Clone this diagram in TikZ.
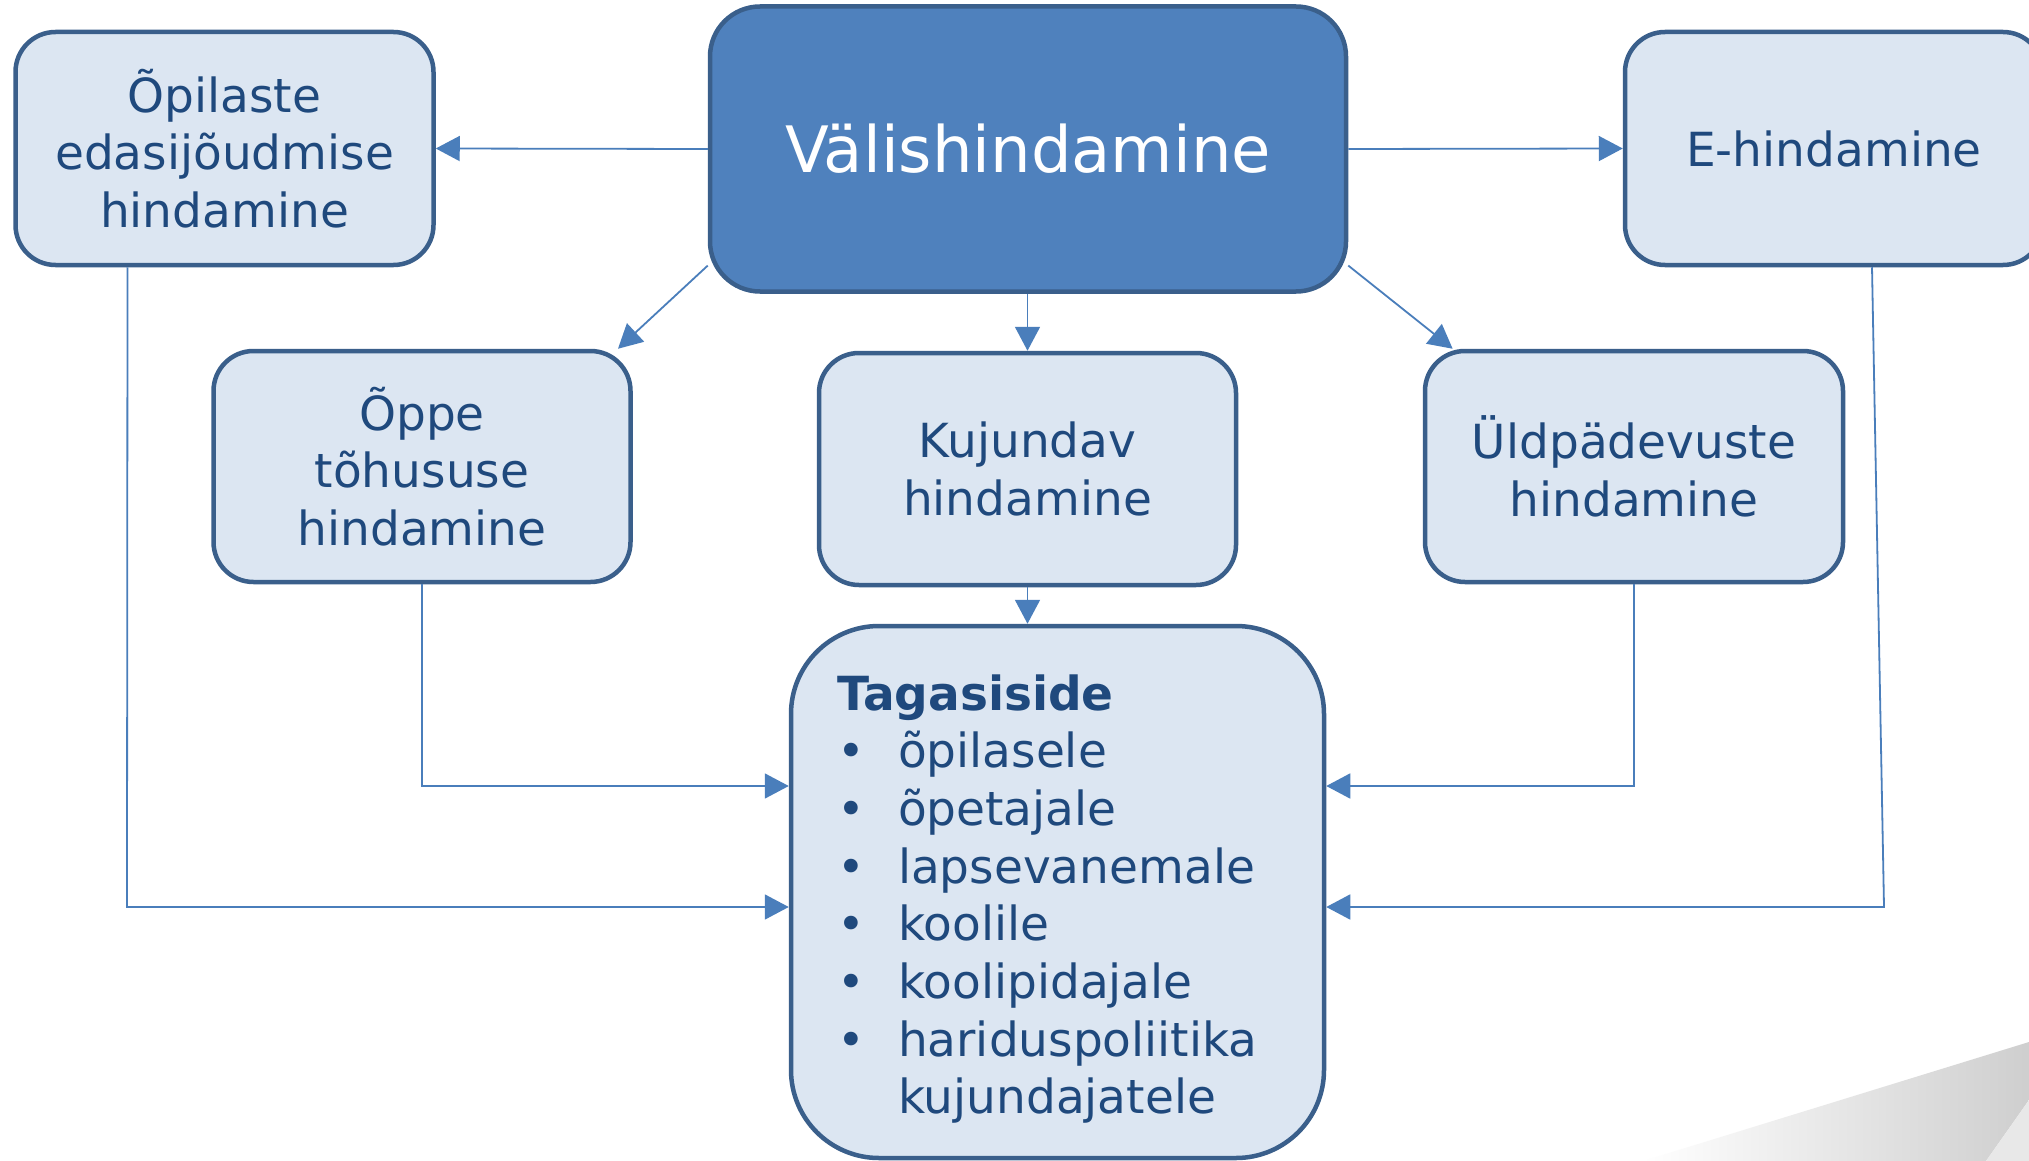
\documentclass[tikz,border=0pt]{standalone}
\usepackage{fontspec}
\setmainfont{DejaVu Sans}
\usetikzlibrary{arrows.meta,calc}
\definecolor{boxfill}{HTML}{DCE6F2}
\definecolor{boxline}{HTML}{3A5F8B}
\definecolor{mainfill}{HTML}{4F81BD}
\definecolor{txt}{HTML}{1F497D}
\definecolor{conncol}{HTML}{4A7EBB}
\begin{document}
\begin{tikzpicture}[x=1pt,y=-1pt,
  box/.style={draw=boxline, line width=4.5pt, fill=boxfill, rounded corners=40pt,
    inner sep=0pt, align=center, text=txt, font=\fontsize{47}{57.7}\selectfont},
  conn/.style={draw=conncol, line width=1.8pt, -{Triangle[length=24pt,width=25pt]}}]
\useasboundingbox (0,0) rectangle (2029,1161);
\clip (0,0) rectangle (2029,1161);
\fill[white] (0,0) rectangle (2029,1161);
% background decoration
\shade[left color=white, right color=black!19] (1643,1161) -- (2029,1042) -- (2029,1100) -- (1986,1161) -- cycle;
\fill[black!9] (1986,1161) -- (2029,1100) -- (2029,1161) -- cycle;
% nodes
\node[box, fill=mainfill, text=white, rounded corners=50pt, minimum width=636pt, minimum height=285pt,
  font=\fontsize{64}{70}\selectfont] (val) at (1028,149) {Välishindamine};
\node[box, minimum width=418pt, minimum height=233pt] (opil) at (224.5,148.5) {Õpilaste\\edasijõudmise\\hindamine};
\node[box, minimum width=418pt, minimum height=233pt] (ehind) at (1834,148.5) {E-hindamine};
\node[box, minimum width=417pt, minimum height=231pt] (oppe) at (422,466.5) {Õppe\\tõhususe\\hindamine};
\node[box, minimum width=417pt, minimum height=232pt] (kuj) at (1027.5,469) {Kujundav\\hindamine};
\node[box, minimum width=418pt, minimum height=231pt] (uld) at (1634,466.5) {Üldpädevuste\\hindamine};
\node[box, rounded corners=88pt, minimum width=533pt, minimum height=532pt] (tag) at (1057.5,892) {};
\node[inner sep=0pt, text width=441pt, align=left, text=txt, font=\fontsize{47}{57.7}\selectfont]
  (tagtext) at ([yshift=-7pt]tag.center) {\textbf{Tagasiside}\\
  \makebox[61pt][l]{•}õpilasele\\
  \makebox[61pt][l]{•}õpetajale\\
  \makebox[61pt][l]{•}lapsevanemale\\
  \makebox[61pt][l]{•}koolile\\
  \makebox[61pt][l]{•}koolipidajale\\
  \makebox[61pt][l]{•}hariduspoliitika\\
  \hspace*{61pt}kujundajatele};
\coordinate (lcorner) at (127,907);
\coordinate (ecorner) at (1884,907);
% connectors
\draw[conn] (val.west) -- (opil.east);
\draw[conn] (val.east) -- (ehind.west);
\draw[conn] (val.south -| kuj.north) -- (kuj.north);
\draw[conn] (val.200.5) -- (oppe.31);
\draw[conn] (val.-20.5) -- (uld.147.5);
\draw[conn] (kuj.south) -- (kuj.south |- tag.north);
\draw[conn] (oppe.south) |- ([yshift=106pt]tag.west);
\draw[conn] (uld.south) |- ([yshift=106pt]tag.east);
\draw[conn] ([xshift=-97pt]opil.south) -- (lcorner) -- ([yshift=-15pt]tag.west);
\draw[conn] ([xshift=38pt]ehind.south) -- (ecorner) -- ([yshift=-15pt]tag.east);
\end{tikzpicture}
\end{document}
